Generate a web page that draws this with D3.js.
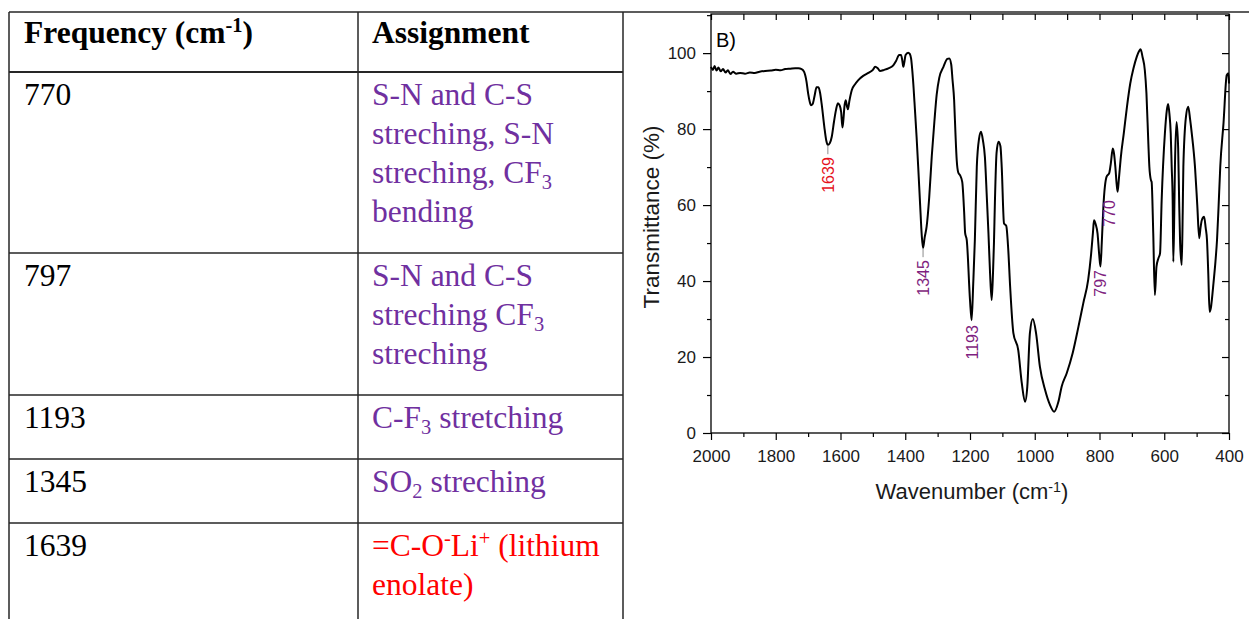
<!DOCTYPE html>
<html>
<head>
<meta charset="utf-8">
<script src="https://cdn.jsdelivr.net/npm/d3@7"></script>
<style>
  body { margin: 0; background: #fff; }
  svg { display: block; }
</style>
</head>
<body>
<svg id="fig" width="1249" height="619"></svg>
<script>
// ---------- table content ----------
const headers = ["Frequency (cm^{-1})", "Assignment"];
const frequencies = ["770", "797", "1193", "1345", "1639"];
const assignments = [
  ["S-N and C-S", "streching, S-N", "streching, CF_{3}", "bending"],
  ["S-N and C-S", "streching CF_{3}", "streching"],
  ["C-F_{3} stretching"],
  ["SO_{2} streching"],
  ["=C-O^{-}Li^{+} (lithium", "enolate)"]
];
const assignmentColors = ["#7030a0", "#7030a0", "#7030a0", "#7030a0", "#ff0000"];

// ---------- FTIR spectrum (wavenumber in cm-1, transmittance in %) ----------
const wavenumbers = [
  2000, 1994, 1989, 1983, 1977, 1970, 1963, 1955, 1948, 1940, 1932, 1922, 1910, 1895, 1880, 1865,
  1850, 1833, 1815, 1800, 1785, 1771, 1755, 1740, 1730, 1720, 1712, 1705, 1700, 1695, 1691, 1686,
  1680, 1674, 1668, 1663, 1658, 1650, 1644, 1639, 1633, 1627, 1620, 1614, 1608, 1603, 1598, 1594,
  1591, 1588, 1584, 1580, 1577, 1573, 1565, 1555, 1545, 1530, 1514, 1500, 1493, 1485, 1478, 1465,
  1452, 1437, 1428, 1419, 1413, 1409, 1406, 1403, 1399, 1391, 1386, 1382, 1376, 1370, 1365, 1360,
  1354, 1349, 1345, 1340, 1334, 1326, 1318, 1310, 1303, 1295, 1282, 1270, 1264, 1258, 1254, 1249,
  1245, 1241, 1236, 1231, 1224, 1218, 1215, 1210, 1200, 1195, 1190, 1185, 1179, 1172, 1166, 1160,
  1154, 1148, 1143, 1138, 1133, 1129, 1126, 1123, 1118, 1112, 1106, 1102, 1095, 1088, 1082, 1076,
  1066, 1051, 1040, 1030, 1023, 1015, 1006, 996, 984, 968, 953, 940, 927, 917, 901, 883,
  865, 850, 835, 826, 820, 817, 812, 806, 801, 797, 793, 788, 778, 770, 765, 759,
  755, 751, 747, 744, 740, 734, 725, 715, 705, 695, 685, 678, 673, 667, 660, 655,
  649, 646, 641, 639, 634, 629, 624, 618, 613, 608, 598, 592, 588, 584, 580, 577,
  574, 572, 569, 567, 562, 557, 554, 551, 546, 543, 541, 533, 526, 520, 515, 505,
  498, 492, 488, 484, 477, 472, 468, 464, 460, 455, 453, 448, 442, 437, 432, 427,
  417, 407, 402, 400
];
const transmittance = [
  96.4, 95.6, 96.6, 95.4, 96.2, 95.2, 95.8, 94.9, 95.5, 94.5, 95.1, 94.6, 94.8, 94.6, 94.9, 94.8,
  95.1, 95.3, 95.4, 95.6, 95.5, 95.8, 95.9, 96.0, 96.0, 95.8, 95.0, 92.5, 89.4, 87.2, 86.3, 86.6,
  88.8, 91.0, 91.0, 89.5, 86.5, 80.6, 77.0, 75.8, 76.3, 78.0, 82.0, 85.0, 86.8, 86.3, 84.5, 80.4,
  82.5, 85.8, 87.6, 86.0, 85.2, 87.2, 90.3, 91.8, 92.9, 94.0, 94.8, 95.6, 96.4, 96.0, 95.3, 95.6,
  96.0, 96.8, 98.0, 99.5, 99.5, 98.0, 96.4, 97.5, 99.5, 100.1, 99.8, 98.6, 93.0, 85.0, 78.0, 70.1,
  60.0, 52.0, 48.7, 51.5, 54.3, 62.0, 73.0, 82.0, 89.0, 93.5, 96.4, 98.5, 98.6, 97.0, 93.0, 87.6,
  79.0, 71.8, 68.5, 67.9, 66.1, 58.0, 52.6, 50.8, 35.0, 29.7, 39.4, 50.8, 70.1, 77.5, 79.3, 77.0,
  72.7, 62.0, 52.6, 42.0, 35.0, 42.0, 50.0, 61.0, 73.7, 76.7, 75.5, 70.0, 55.2, 54.5, 48.5, 38.5,
  26.3, 21.8, 13.1, 8.2, 12.2, 26.3, 30.0, 26.3, 17.4, 11.3, 7.4, 5.6, 8.2, 12.2, 15.8, 21.0,
  28.0, 34.2, 40.3, 47.0, 53.0, 56.0, 55.0, 52.5, 47.0, 43.8, 50.0, 59.6, 67.5, 68.4, 71.0, 74.9,
  73.5, 70.0, 65.5, 63.5, 67.0, 72.7, 78.9, 86.0, 92.0, 96.0, 99.0, 100.5, 101.0, 99.0, 95.5, 89.4,
  76.0, 70.1, 66.5, 66.1, 52.6, 36.3, 43.8, 46.0, 47.3, 61.3, 78.9, 85.0, 86.6, 84.0, 78.9, 70.0,
  61.3, 45.1, 58.0, 70.1, 81.9, 74.9, 61.0, 50.0, 44.2, 58.0, 70.0, 83.2, 85.9, 82.5, 78.9, 70.0,
  60.0, 51.3, 54.0, 56.0, 56.9, 54.0, 50.8, 42.0, 31.9, 33.5, 35.0, 39.4, 45.0, 50.8, 60.0, 70.1,
  81.5, 94.2, 94.7, 92.0
];

const xTicks = [2000, 1800, 1600, 1400, 1200, 1000, 800, 600, 400];
const xMinorTicks = [1900, 1700, 1500, 1300, 1100, 900, 700, 500];
const yTicks = [0, 20, 40, 60, 80, 100];
const yMinorTicks = [10, 30, 50, 70, 90, 110];

// band annotations: wavenumber, transmittance level where the label begins, colour
const peakWavenumbers = [1639, 1345, 1193, 797, 770];
const peakLabelLevels = [72.6, 45.5, 28.4, 42.9, 61.3];
const peakColors = ["#e5121b", "#7f1f80", "#7f1f80", "#7f1f80", "#7f1f80"];

// ---------- helpers ----------
// writes text with _{..} subscripts and ^{..} superscripts into a <text>
function richText(textSel, str, size) {
  let cur = 0;
  str.split(/([_^]\{[^}]*\})/).filter(s => s.length).forEach(p => {
    const m = p.match(/^([_^])\{([^}]*)\}$/);
    const target = m ? (m[1] === "^" ? -0.34 * size : 0.2 * size) : 0;
    textSel.append("tspan")
      .attr("dy", target - cur)
      .attr("font-size", m ? size * 0.65 : null)
      .text(m ? m[2] : p);
    cur = target;
  });
}

const svg = d3.select("#fig");
const ink = "#262626";

// ---------- table ----------
const table = svg.append("g");
const tLeft = 9, tMid = 358, tRight = 623, tTop = 12, headerH = 60;
const lineH = 39, rowPad = 25, firstBase = 33, serifSize = 31.5;
const colX = [24, 372];

// row boundaries from the number of assignment lines
const rowTops = [];
let yCursor = tTop + headerH;
assignments.forEach(lines => { rowTops.push(yCursor); yCursor += lines.length * lineH + rowPad; });

// borders
table.append("line").attr("x1", tLeft).attr("x2", 1249).attr("y1", tTop).attr("y2", tTop)
  .attr("stroke", ink).attr("stroke-width", 1.6);
[tLeft, tMid, tRight].forEach(x => table.append("line")
  .attr("x1", x).attr("x2", x).attr("y1", tTop).attr("y2", 619)
  .attr("stroke", ink).attr("stroke-width", 1.5));
rowTops.forEach((y, i) => table.append("line")
  .attr("x1", tLeft).attr("x2", tRight).attr("y1", y).attr("y2", y)
  .attr("stroke", ink).attr("stroke-width", i === 0 ? 2 : 1.5));

// header
headers.forEach((h, i) => {
  const t = table.append("text").attr("x", colX[i]).attr("y", tTop + 31)
    .attr("font-family", "'Liberation Serif', 'Times New Roman', serif")
    .attr("font-weight", "bold").attr("font-size", serifSize).attr("fill", "#000");
  richText(t, h, serifSize);
});

// rows
frequencies.forEach((f, i) => {
  table.append("text").attr("x", colX[0]).attr("y", rowTops[i] + firstBase)
    .attr("font-family", "'Liberation Serif', 'Times New Roman', serif")
    .attr("font-size", serifSize).attr("fill", "#000").text(f);
  assignments[i].forEach((line, j) => {
    const t = table.append("text").attr("x", colX[1]).attr("y", rowTops[i] + firstBase + j * lineH)
      .attr("font-family", "'Liberation Serif', 'Times New Roman', serif")
      .attr("font-size", serifSize).attr("fill", assignmentColors[i]);
    richText(t, line, serifSize);
  });
});

// ---------- spectrum plot ----------
const plot = { left: 711, right: 1229, top: 14, bottom: 433 };
const x = d3.scaleLinear().domain([2000, 400]).range([plot.left, plot.right]);
const y = d3.scaleLinear().domain([0, 110.3]).range([plot.bottom, plot.top]);
const sans = "'Liberation Sans', Arial, sans-serif";

const chart = svg.append("g");

function styleAxis(g) {
  g.select(".domain").remove();
  g.selectAll(".tick line").attr("stroke", "#000").attr("stroke-width", 1.2);
  g.selectAll(".tick text").attr("font-family", sans).attr("font-size", 17).attr("fill", "#1a1a1a");
}

// bottom
chart.append("g").attr("transform", `translate(0,${plot.bottom})`)
  .call(d3.axisBottom(x).tickValues(xTicks).tickSize(7).tickPadding(10).tickFormat(d3.format("d")))
  .call(styleAxis);
chart.append("g").attr("transform", `translate(0,${plot.bottom})`)
  .call(d3.axisBottom(x).tickValues(xMinorTicks).tickSize(4).tickFormat(""))
  .call(styleAxis);
// top (mirror, inward)
chart.append("g").attr("transform", `translate(0,${plot.top})`)
  .call(d3.axisBottom(x).tickValues(xTicks.concat(xMinorTicks)).tickSize(6).tickFormat(""))
  .call(styleAxis);
// left
chart.append("g").attr("transform", `translate(${plot.left},0)`)
  .call(d3.axisLeft(y).tickValues(yTicks).tickSize(8).tickPadding(7).tickFormat(d3.format("d")))
  .call(styleAxis);
chart.append("g").attr("transform", `translate(${plot.left},0)`)
  .call(d3.axisLeft(y).tickValues(yMinorTicks.filter(v => v < 110.3)).tickSize(4).tickFormat(""))
  .call(styleAxis);
// right (mirror, inward)
chart.append("g").attr("transform", `translate(${plot.right},0)`)
  .call(d3.axisRight(y).tickValues(yTicks).tickSize(-7).tickFormat(""))
  .call(styleAxis);
chart.append("g").attr("transform", `translate(${plot.right},0)`)
  .call(d3.axisRight(y).tickValues(yMinorTicks.filter(v => v < 110.3)).tickSize(-4).tickFormat(""))
  .call(styleAxis);

// frame
chart.append("rect")
  .attr("x", plot.left).attr("y", plot.top)
  .attr("width", plot.right - plot.left).attr("height", plot.bottom - plot.top)
  .attr("fill", "none").attr("stroke", "#000").attr("stroke-width", 1.3);

// spectrum trace
const spectrum = wavenumbers.map((w, i) => ({ w, t: transmittance[i] }));
chart.append("path")
  .datum(spectrum)
  .attr("fill", "none").attr("stroke", "#000").attr("stroke-width", 2)
  .attr("stroke-linejoin", "round")
  .attr("d", d3.line().x(d => x(d.w)).y(d => y(d.t)).curve(d3.curveMonotoneX));

// band labels
const traceAt = w => {
  const i = d3.bisector(d => -d.w).left(spectrum, -w);
  const a = spectrum[Math.max(0, i - 1)], b = spectrum[Math.min(spectrum.length - 1, i)];
  return a.w === b.w ? a.t : a.t + (b.t - a.t) * (w - a.w) / (b.w - a.w);
};
peakWavenumbers.forEach((w, i) => {
  const px = x(w), py = y(peakLabelLevels[i]);
  const curveY = y(traceAt(w));
  const gap = py - curveY;
  if (gap > 4 && gap < 16) {
    chart.append("line").attr("x1", px).attr("x2", px).attr("y1", curveY).attr("y2", py - 3)
      .attr("stroke", "#8a8a8a").attr("stroke-width", 1);
  }
  chart.append("text")
    .attr("transform", `translate(${px},${py}) rotate(-90)`)
    .attr("text-anchor", "end").attr("dy", "0.36em")
    .attr("font-family", sans).attr("font-size", 16).attr("fill", peakColors[i])
    .text(w);
});

// panel letter
chart.append("text").attr("x", 716).attr("y", 47)
  .attr("font-family", sans).attr("font-size", 20).attr("fill", "#000").text("B)");

// axis titles
const xt = chart.append("text").attr("x", (plot.left + plot.right) / 2 + 2).attr("y", 499)
  .attr("text-anchor", "middle").attr("font-family", sans).attr("font-size", 22).attr("fill", "#1a1a1a");
richText(xt, "Wavenumber (cm^{-1})", 22);
const yt = chart.append("text").attr("transform", `translate(659,217) rotate(-90)`)
  .attr("text-anchor", "middle").attr("font-family", sans).attr("font-size", 22.5).attr("fill", "#1a1a1a");
richText(yt, "Transmittance (%)", 22.5);
</script>
</body>
</html>
